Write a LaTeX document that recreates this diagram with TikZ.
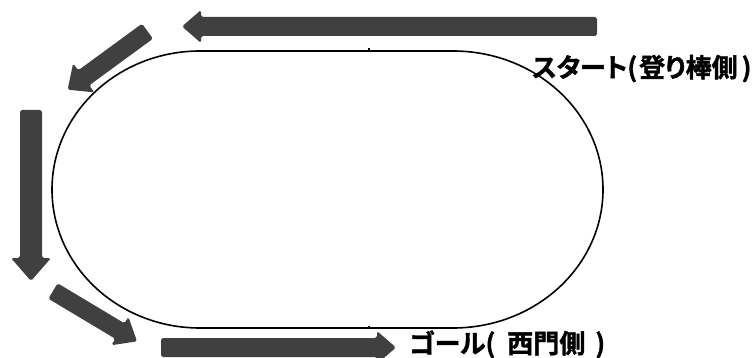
\documentclass[tikz,border=0pt]{standalone}
\usepackage{fontspec}
\newfontfamily\jpfont[RawFeature=+palt, FakeBold=1.5]{Noto Sans CJK JP Bold}
\definecolor{arrowgray}{HTML}{404040}
\tikzset{
  track/.style={draw=black, line width=1.6pt},
  fatarrowstyle/.style={fill=arrowgray, rounded corners=1.8pt},
  label/.style={font=\jpfont\fontsize{26pt}{28pt}\selectfont, inner sep=0pt, anchor=base west, text=black}
}
% tail point, canvas angle, total length, body half width, head half width, head length
\newcommand\fatarrow[6]{%
  \begin{scope}[shift={(#1)}, rotate=#2]
    \fill[fatarrowstyle] (0pt,-#4pt) -- ({#3pt-#6pt},-#4pt) -- ({#3pt-#6pt},-#5pt) -- (#3pt,0pt)
      -- ({#3pt-#6pt},#5pt) -- ({#3pt-#6pt},#4pt) -- (0pt,#4pt) -- cycle;
  \end{scope}}
\begin{document}
\begin{tikzpicture}[x=1pt, y=-1pt]
  \useasboundingbox (0,0) rectangle (752,358);
  \begin{scope}
    \clip (0,0) rectangle (752,358);
    % track
    \draw[track] (200,51) -- (453,51)
      arc[start angle=90, end angle=-90, x radius=150pt, y radius=138.5pt]
      -- (200,328)
      arc[start angle=270, end angle=90, x radius=148pt, y radius=138.5pt] -- cycle;
    \draw[line width=1.2pt] (369,48.5) -- (369,51);
    \draw[line width=1.2pt] (369,325.5) -- (369,328);
    % arrows
    \fatarrow{597,26.5}{180}{415}{9.5}{16.5}{19}
    \fatarrow{147.5,31.2}{-143.8}{99}{9.3}{18}{20}
    \fatarrow{31,110}{-90}{171}{11}{20}{23}
    \fatarrow{53,291}{-30.9}{98}{9}{16.5}{20}
    \fatarrow{161,347.5}{0}{235}{9.5}{16.5}{19}
  \end{scope}
  % labels
  \node[label] (start) at (532,77) {スタート(\hspace{2pt}登り棒側\hspace{4pt})\hspace{-6pt}};
  \node[label] (goal) at (409,353) {ゴール(\hspace{12pt}西門側\hspace{10pt})};
\end{tikzpicture}
\end{document}
